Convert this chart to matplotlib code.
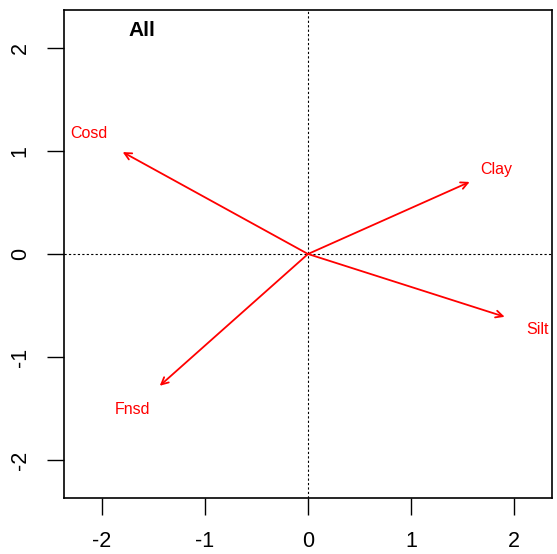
import matplotlib
matplotlib.use("Agg")
import matplotlib.pyplot as plt

plt.rcParams['font.family'] = ['Liberation Sans', 'DejaVu Sans']

variables = ["Cosd", "Clay", "Silt", "Fnsd"]
arrow_x = [-1.80, 1.57, 1.91, -1.44]
arrow_y = [0.99, 0.70, -0.61, -1.28]
label_x = [-2.13, 1.83, 2.23, -1.70]
label_y = [1.17, 0.82, -0.73, -1.51]
ticks = [-2, -1, 0, 1, 2]
title_text = "All"

fig = plt.figure(figsize=(5.57, 5.54), dpi=100)
W, H = 557, 554
ax = fig.add_axes([64 / W, 1 - 498 / H, (552 - 64) / W, (498 - 10) / H])
ax.set_xlim(-2.37, 2.37)
ax.set_ylim(-2.37, 2.37)

ax.axvline(0, color='black', linestyle=(0, (2, 2)), linewidth=0.8)
ax.axhline(0, color='black', linestyle=(0, (2, 2)), linewidth=0.8)

for name, ax_, ay_, lx, ly in zip(variables, arrow_x, arrow_y, label_x, label_y):
    ax.annotate("", xy=(ax_, ay_), xytext=(0, 0),
                arrowprops=dict(arrowstyle="->,head_length=0.5,head_width=0.25",
                                color='red', lw=1.3, shrinkA=0, shrinkB=0))
    ax.text(lx, ly, name, color='red', fontsize=11.5, ha='center', va='center')

ax.text(-1.61, 2.17, title_text, fontsize=15, fontweight='bold', ha='center', va='center')

ax.set_xticks(ticks)
ax.set_yticks(ticks)
ax.set_xticklabels([str(t) for t in ticks])
ax.set_yticklabels([str(t) for t in ticks], rotation=90, va='center')
ax.tick_params(axis='both', labelsize=15.5, length=12, width=1, pad=12, direction='out')
for s in ax.spines.values():
    s.set_linewidth(1.2)

fig.savefig("out.png", dpi=100)
